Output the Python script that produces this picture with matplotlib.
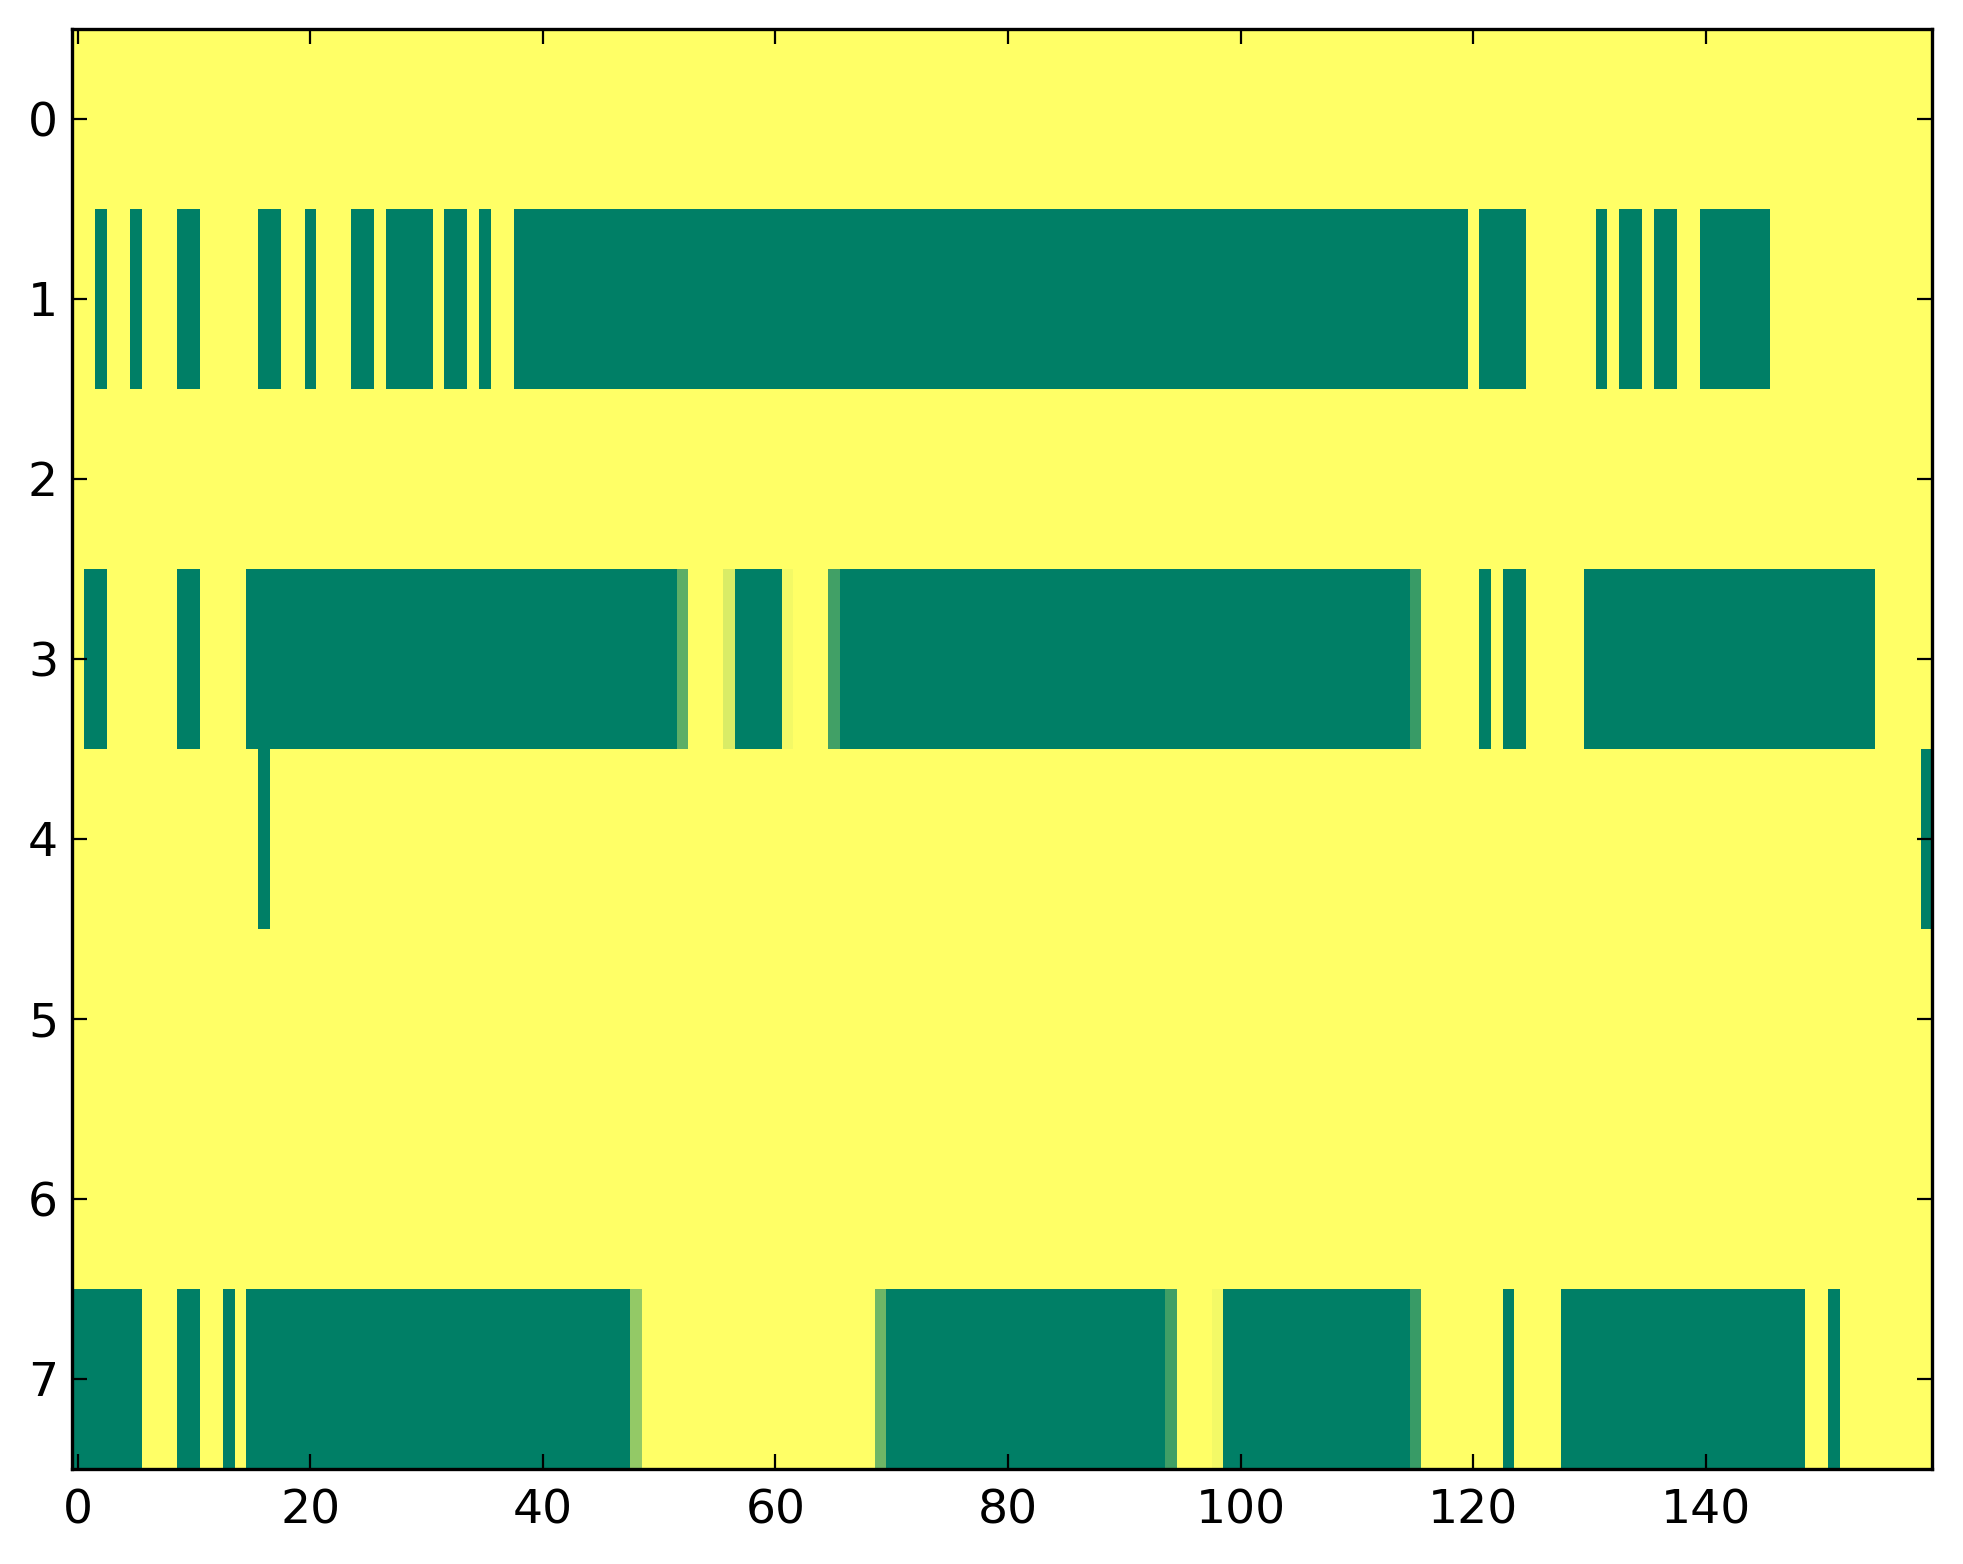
import numpy as np
import matplotlib
matplotlib.use("Agg")
import matplotlib.pyplot as plt

n_cols = 160
row_labels = [0, 1, 2, 3, 4, 5, 6, 7]
x_ticks = [0, 20, 40, 60, 80, 100, 120, 140]

# Run-length encoded rows: (value, count)
row0_runs = [(1, 160)]
row1_runs = [(1, 2), (0, 1), (1, 2), (0, 1), (1, 3), (0, 2), (1, 5), (0, 2), (1, 2), (0, 1),
             (1, 3), (0, 2), (1, 1), (0, 4), (1, 1), (0, 2), (1, 1), (0, 1), (1, 2), (0, 82),
             (1, 1), (0, 4), (1, 6), (0, 1), (1, 1), (0, 2), (1, 1), (0, 2), (1, 2), (0, 6),
             (1, 14)]
row2_runs = [(1, 160)]
row3_runs = [(1, 1), (0, 2), (1, 6), (0, 2), (1, 4), (0, 37), (0.37, 1), (1, 3), (0.85, 1),
             (0, 4), (0.95, 1), (1, 3), (0.26, 1), (0, 49), (0.22, 1), (1, 5), (0, 1), (1, 1),
             (0, 2), (1, 5), (0, 25), (1, 5)]
row4_runs = [(1, 16), (0, 1), (1, 142), (0, 1)]
row5_runs = [(1, 160)]
row6_runs = [(1, 160)]
row7_runs = [(0, 6), (1, 3), (0, 2), (1, 2), (0, 1), (1, 1), (0, 33), (0.58, 1), (1, 20),
             (0.43, 1), (0, 24), (0.25, 1), (1, 3), (0.95, 1), (0, 16), (0.22, 1), (1, 7),
             (0, 1), (1, 4), (0, 21), (1, 2), (0, 1), (1, 8)]


def expand(runs):
    vals = [v for v, c in runs]
    counts = [c for v, c in runs]
    out = np.repeat(np.array(vals, dtype=float), counts)
    assert len(out) == n_cols
    return out


data = np.vstack([expand(r) for r in
                  [row0_runs, row1_runs, row2_runs, row3_runs,
                   row4_runs, row5_runs, row6_runs, row7_runs]])

DPI = 100
fig = plt.figure(figsize=(19.63, 15.64), dpi=DPI, facecolor="white")
ax = fig.add_axes([0.03668, 0.0610, 0.94776, 0.9207])
ax.imshow(data, cmap="summer", aspect="auto", interpolation="nearest",
          vmin=0, vmax=1)

ax.set_xticks(x_ticks)
ax.set_yticks(row_labels)
ax.set_xlim(-0.5, n_cols - 0.5)
ax.set_ylim(len(row_labels) - 0.5, -0.5)

ax.tick_params(direction="in", top=True, right=True, length=11, width=1.6,
               labelsize=34, pad=10, colors="black")
ax.tick_params(axis="x", pad=14)
for s in ax.spines.values():
    s.set_linewidth(2.4)
    s.set_color("black")

fig.savefig("out.png", dpi=DPI, facecolor="white")
